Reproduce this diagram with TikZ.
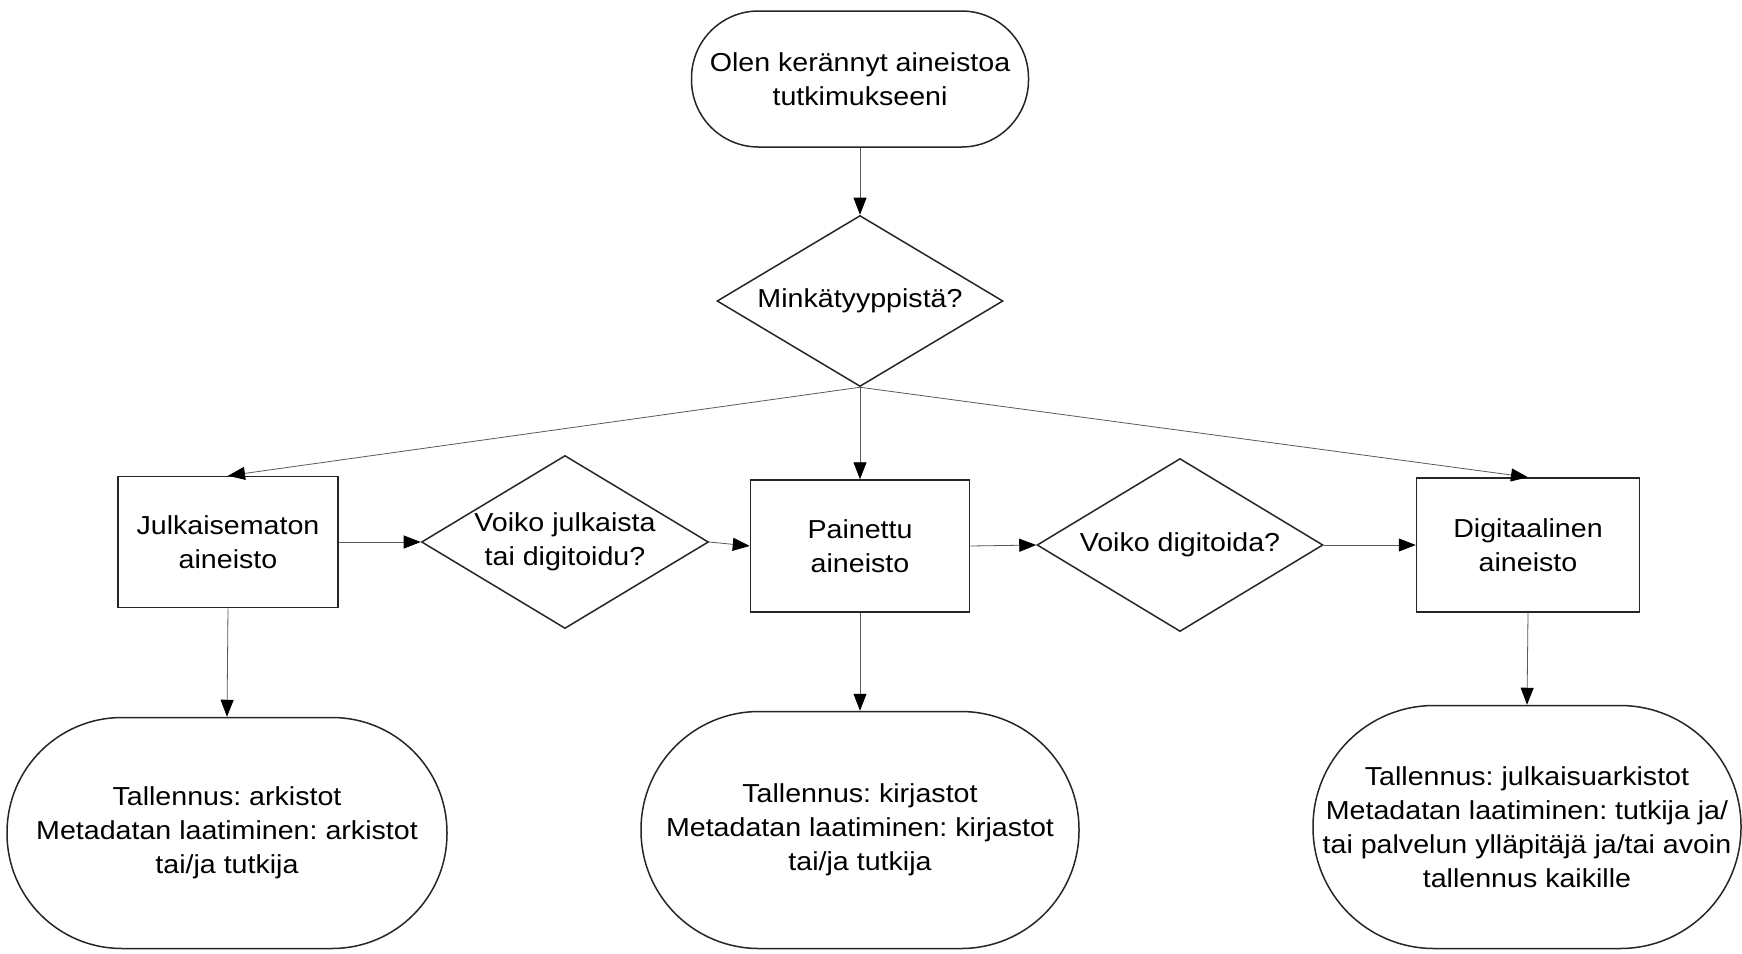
\documentclass[tikz,border=0pt]{standalone}
\usepackage{fontspec}
\setmainfont{Liberation Sans}[FakeStretch=1.1]
\usetikzlibrary{shapes.geometric,arrows.meta}
\frenchspacing
\begin{document}
\begin{tikzpicture}[x=1pt,y=-1pt,
 shapeline/.style={draw=black!85, line width=1.5pt, fill=white},
 terminal/.style={shapeline, rectangle, rounded corners=#1, inner sep=0pt, align=center},
 procbox/.style={shapeline, rectangle, inner sep=0pt, align=center},
 decision/.style={shapeline, diamond, inner sep=0pt},
 txt/.style={align=center, inner sep=0pt},
 conn/.style={draw=black!65, line width=0.8pt, -{Triangle[length=17pt,width=13pt,black]}},
 every node/.style={font=\fontsize{26}{34}\selectfont}]
\useasboundingbox[fill=white] (0,0) rectangle (1742,953);
\node[terminal=67pt, minimum width=337pt, minimum height=136pt] (start) at (860,79) {Olen kerännyt aineistoa\\tutkimukseeni};
\node[decision, minimum width=286pt, minimum height=171pt] (d1) at (860,301) {};
\node[txt] (d1t) at (d1) {Minkätyyppistä?};
\node[procbox, minimum width=220pt, minimum height=131pt] (b1) at (228,542) {Julkaisematon\\aineisto};
\node[decision, minimum width=287pt, minimum height=173pt] (d2) at (565,542) {};
\node[txt] (d2t) at (d2) {Voiko julkaista\\tai digitoidu?};
\node[procbox, minimum width=219pt, minimum height=132pt] (b2) at (860,546) {Painettu\\aineisto};
\node[decision, minimum width=286pt, minimum height=173pt] (d3) at (1180,545) {};
\node[txt] (d3t) at (d3) {Voiko digitoida?};
\node[procbox, minimum width=223pt, minimum height=134pt] (b3) at (1528,545) {Digitaalinen\\aineisto};
\node[terminal=115pt, minimum width=440pt, minimum height=231pt] (e1) at (227,833) {Tallennus: arkistot\\Metadatan laatiminen: arkistot\\tai/ja tutkija};
\node[terminal=118pt, minimum width=438pt, minimum height=237pt] (e2) at (860,830) {Tallennus: kirjastot\\Metadatan laatiminen: kirjastot\\tai/ja tutkija};
\node[terminal=121pt, minimum width=428pt, minimum height=243pt] (e3) at (1527,827) {Tallennus: julkaisuarkistot\\Metadatan laatiminen: tutkija ja/\\tai palvelun ylläpitäjä ja/tai avoin\\tallennus kaikille};
\draw[conn] (start) -- (d1);
\draw[conn] (d1.south) -- (b1.north);
\draw[conn] (d1.south) -- (b2.north);
\draw[conn] (d1.south) -- (b3.north);
\draw[conn] (b1) -- (d2);
\draw[conn] (d2.east) -- (b2.west);
\draw[conn] (b2.east) -- (d3.west);
\draw[conn] (d3.east) -- (b3.west);
\draw[conn] (b1.south) -- (e1.north);
\draw[conn] (b2.south) -- (e2.north);
\draw[conn] (b3.south) -- (e3.north);
\end{tikzpicture}
\end{document}
